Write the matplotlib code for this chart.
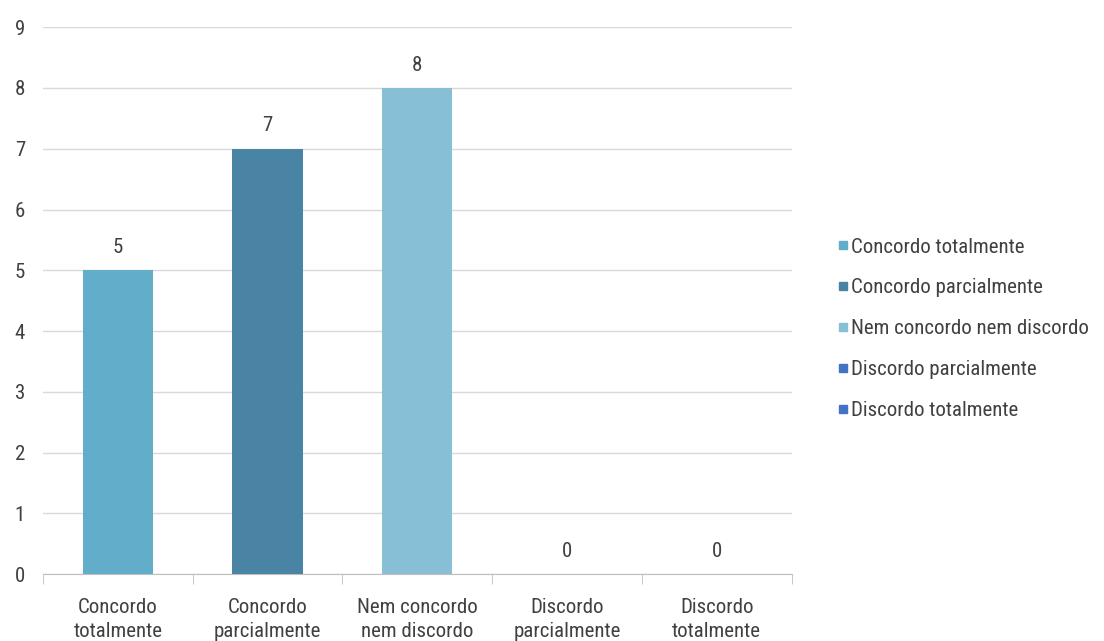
import matplotlib
matplotlib.use('Agg')
import matplotlib.pyplot as plt
from matplotlib.lines import Line2D

categories = ['Concordo totalmente', 'Concordo parcialmente', 'Nem concordo nem discordo',
              'Discordo parcialmente', 'Discordo totalmente']
tick_labels = ['Concordo\ntotalmente', 'Concordo\nparcialmente', 'Nem concordo\nnem discordo',
               'Discordo\nparcialmente', 'Discordo\ntotalmente']
values = [5, 7, 8, 0, 0]
colors = ['#62aeca', '#4a84a4', '#87c0d6', '#4472c4', '#4472c4']

plt.rcParams['font.family'] = ['Roboto Condensed', 'DejaVu Sans']
txt = '#404040'
fs = 15

fig = plt.figure(figsize=(11.04, 6.41), dpi=100)
ax = fig.add_axes([0.039, 0.1045, 0.678, 0.853])

x = range(len(values))
ax.bar(x, values, width=0.47, color=colors, zorder=3)
for i, v in enumerate(values):
    ax.text(i, v + 0.22, str(v), ha='center', va='bottom', fontsize=fs, color=txt)

ax.set_xlim(-0.5, len(values) - 0.5)
ax.set_ylim(0, 9)
ax.set_yticks(range(10))
ax.yaxis.grid(True, color='#d9d9d9', linewidth=1, zorder=0)
ax.set_xticks(list(x))
ax.set_xticklabels(tick_labels, fontsize=fs, color=txt, linespacing=1.35)
ax.tick_params(axis='x', length=0, pad=17)
ax.tick_params(axis='y', length=0, labelsize=fs, labelcolor=txt, pad=13)
# ticks at category boundaries
ax.set_xticks([i - 0.5 for i in range(len(values) + 1)], minor=True)
ax.tick_params(axis='x', which='minor', length=7, color='#bfbfbf', direction='out')
for s in ['top', 'right', 'left']:
    ax.spines[s].set_visible(False)
ax.spines['bottom'].set_color('#bfbfbf')

handles = [Line2D([], [], marker='s', linestyle='none', markersize=6, color=c) for c in colors]
fig.legend(handles, categories, loc='center left', bbox_to_anchor=(0.74, 0.487),
           frameon=False, fontsize=fs, labelcolor=txt, handletextpad=0.05,
           labelspacing=1.05, handlelength=0.7)

fig.savefig('out.png', dpi=100)
